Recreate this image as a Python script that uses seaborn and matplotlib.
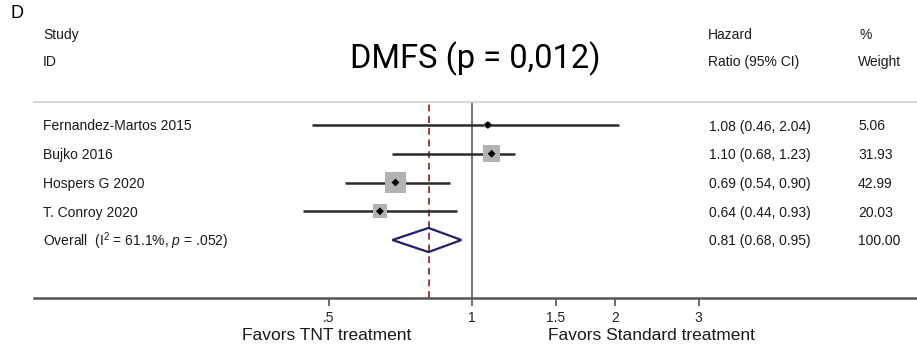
import numpy as np
import pandas as pd
import seaborn as sns
import matplotlib
matplotlib.use("Agg")
import matplotlib.pyplot as plt
from matplotlib.patches import Polygon
from matplotlib import font_manager

# ---- data -------------------------------------------------------------
studies = ["Fernandez-Martos 2015", "Bujko 2016", "Hospers G 2020", "T. Conroy 2020"]
hr = [1.08, 1.10, 0.69, 0.64]
ci_low = [0.46, 0.68, 0.54, 0.44]
ci_high = [2.04, 1.23, 0.90, 0.93]
weights = [5.06, 31.93, 42.99, 20.03]

overall_hr = 0.81
overall_low = 0.68
overall_high = 0.95
overall_weight = 100.00
overall_label = r"Overall  (I$^2$ = 61.1%, $p$ = .052)"

tick_values = [0.5, 1, 1.5, 2, 3]
tick_labels = [".5", "1", "1.5", "2", "3"]

title = "DMFS (p = 0,012)"
left_label = "Favors TNT treatment"
right_label = "Favors Standard treatment"

# ---- style ------------------------------------------------------------
sns.set_theme(style="white")
plt.rcParams["font.family"] = ["Liberation Sans", "DejaVu Sans"]
plt.rcParams["mathtext.fontset"] = "custom"
plt.rcParams["mathtext.rm"] = "Liberation Sans"
plt.rcParams["mathtext.it"] = "Liberation Sans:italic"

names = {f.name for f in font_manager.fontManager.ttflist}
title_family = ["Liberation Sans Narrow"] if "Liberation Sans Narrow" in names else ["Roboto", "DejaVu Sans"]

W, H = 917, 345
fig = plt.figure(figsize=(W / 100, H / 100), dpi=100)

def fx(px):
    return px / W

def fy(py):
    return 1 - py / H

# plot area: from the separator rule down to the x axis
ax_left, ax_right, ax_top, ax_bottom = 34, 917, 102, 298
ax = fig.add_axes([fx(ax_left), fy(ax_bottom), fx(ax_right - ax_left), (ax_bottom - ax_top) / H])

df = pd.DataFrame({"study": studies, "hr": hr, "lo": ci_low, "hi": ci_high, "w": weights})
df["row"] = np.arange(len(df))
overall_row = len(df)

# log scale: 1 -> x pixel 472, one doubling = 143 px
ax.set_xscale("log")
x0 = 2 ** ((ax_left - 472) / 143)
x1 = 2 ** ((ax_right - 472) / 143)
ax.set_xlim(x0, x1)
row_px0, row_step = 125, 28.75
ax.set_ylim((ax_bottom - row_px0) / row_step, (ax_top - row_px0) / row_step)

# reference lines
ax.axvline(1, color="#505050", lw=1.1, zorder=1)
ax.axvline(overall_hr, color="#a43a3a", lw=1.4, ls=(0, (3.5, 2.5)), zorder=1)

# confidence intervals
ax.hlines(df["row"], df["lo"], df["hi"], color="#2b2b2b", lw=1.8, zorder=2)

# weight boxes (area proportional to weight)
sns.scatterplot(data=df, x="hr", y="row", size="w", sizes=(0, 210), size_norm=(0, 42.99),
                marker="s", color="#b3b3b3", edgecolor="none", legend=False, ax=ax, zorder=3)
sns.scatterplot(data=df, x="hr", y="row", marker="D", s=16, color="black",
                edgecolor="none", legend=False, ax=ax, zorder=4)

# pooled estimate diamond
half_h = 0.42
diamond = Polygon([(overall_low, overall_row), (overall_hr, overall_row - half_h),
                   (overall_high, overall_row), (overall_hr, overall_row + half_h)],
                  closed=True, fill=False, edgecolor="#1f1f70", lw=1.6, zorder=3)
ax.add_patch(diamond)

# axes styling
for side in ["left", "right"]:
    ax.spines[side].set_visible(False)
ax.spines["top"].set_color("#cfcfcf")
ax.spines["top"].set_linewidth(1.2)
ax.spines["bottom"].set_color("#555555")
ax.spines["bottom"].set_linewidth(1.8)
ax.set_yticks([])
ax.set_xticks(tick_values)
ax.set_xticklabels(tick_labels)
ax.xaxis.set_minor_locator(matplotlib.ticker.NullLocator())
ax.tick_params(axis="x", direction="out", length=6, width=1.2, color="#555555",
               labelsize=10, labelcolor="#222222", pad=3, bottom=True)
ax.set_xlabel("")
ax.set_ylabel("")

# ---- text columns -----------------------------------------------------
txt = dict(fontsize=10, color="#1a1a1a", va="center")
fig.text(fx(43), fy(35), "Study", **txt)
fig.text(fx(43), fy(62), "ID", **txt)
fig.text(fx(708), fy(35), "Hazard", **txt)
fig.text(fx(708), fy(62), "Ratio (95% CI)", **txt)
fig.text(fx(859), fy(35), "%", **txt)
fig.text(fx(858), fy(62), "Weight", **txt)

for i, r in df.iterrows():
    py = row_px0 + row_step * r["row"] + 1.5
    fig.text(fx(43), fy(py), r["study"], **txt)
    fig.text(fx(709), fy(py), f"{r['hr']:.2f} ({r['lo']:.2f}, {r['hi']:.2f})", **txt)
    fig.text(fx(858), fy(py), f"{r['w']:.2f}", **txt)

py = row_px0 + row_step * overall_row + 1
fig.text(fx(43), fy(py), overall_label, **txt)
fig.text(fx(709), fy(py), f"{overall_hr:.2f} ({overall_low:.2f}, {overall_high:.2f})", **txt)
fig.text(fx(858), fy(py), f"{overall_weight:.2f}", **txt)

fig.text(fx(10), fy(13), "D", fontsize=13, color="black", va="center")
fig.text(fx(475), fy(68), title, fontsize=23.5, family=title_family, color="black",
         ha="center", va="baseline")
fig.text(fx(327), fy(336), left_label, fontsize=12.5, color="#1a1a1a", ha="center", va="center")
fig.text(fx(651), fy(336), right_label, fontsize=12.5, color="#1a1a1a", ha="center", va="center")

fig.savefig("out.png", dpi=100)
